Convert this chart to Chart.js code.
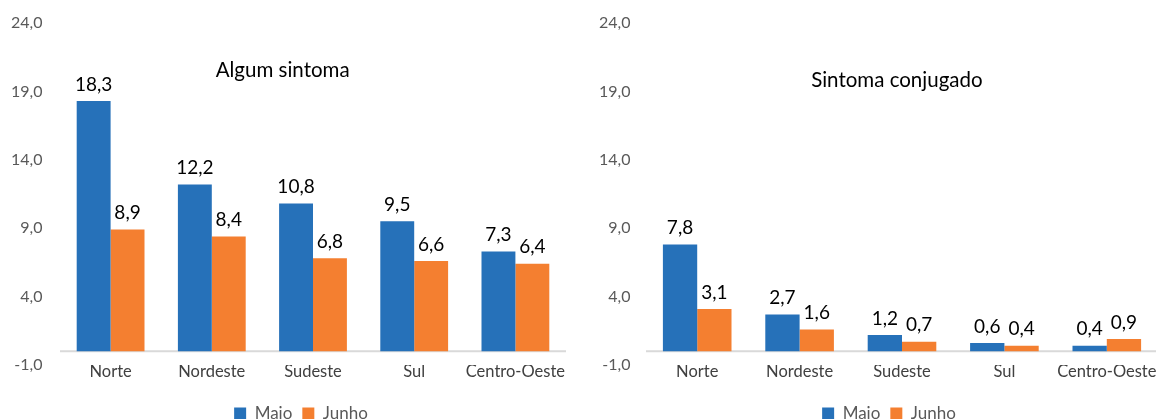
<!DOCTYPE html>
<html lang="pt">
<head>
<meta charset="UTF-8">
<title>Sintomas por região</title>
<script src="https://cdn.jsdelivr.net/npm/chart.js"></script>
<style>
body, html {
    margin: 0;
    padding: 0;
    width: 1156px;
    height: 419px;
    overflow: hidden;
    background: #ffffff;
}
.box {
    position: absolute;
    top: 0;
    height: 432px;
}
#leftBox { left: 8px; width: 578px; }
#rightBox { left: 592px; width: 588px; }
</style>
</head>
<body>
<div class="box" id="leftBox"><canvas id="leftChart"></canvas></div>
<div class="box" id="rightBox"><canvas id="rightChart"></canvas></div>

<script>
// data
const categories = ['Norte', 'Nordeste', 'Sudeste', 'Sul', 'Centro-Oeste'];
const seriesNames = ['Maio', 'Junho'];
const algumMaio = [18.3, 12.2, 10.8, 9.5, 7.3];
const algumJunho = [8.9, 8.4, 6.8, 6.6, 6.4];
const conjMaio = [7.8, 2.7, 1.2, 0.6, 0.4];
const conjJunho = [3.1, 1.6, 0.7, 0.4, 0.9];
const yTicks = [-1, 4, 9, 14, 19, 24];

const BLUE = '#2671b9';
const ORANGE = '#f47f30';
const FONT = 'Lato, "Open Sans", sans-serif';

function fmt(v) {
    return v.toFixed(1).replace('.', ',');
}

// value labels above bars + zero line + inner title
const decorPlugin = {
    id: 'decor',
    beforeDatasetsDraw(chart) {
        const y = chart.scales.y.getPixelForValue(0);
        const ctx = chart.ctx;
        ctx.save();
        ctx.strokeStyle = '#d9d9d9';
        ctx.lineWidth = 2;
        ctx.beginPath();
        ctx.moveTo(chart.chartArea.left, y);
        ctx.lineTo(chart.chartArea.right, y);
        ctx.stroke();
        ctx.restore();
    },
    afterDatasetsDraw(chart, args, opts) {
        const ctx = chart.ctx;
        ctx.save();
        ctx.fillStyle = '#000';
        ctx.font = '19px ' + FONT;
        ctx.textAlign = 'center';
        ctx.textBaseline = 'bottom';
        chart.data.datasets.forEach((ds, i) => {
            chart.getDatasetMeta(i).data.forEach((bar, j) => {
                ctx.fillText(fmt(ds.data[j]), bar.x, bar.y - 7);
            });
        });
        const area = chart.chartArea;
        ctx.font = '20.5px ' + FONT;
        ctx.textBaseline = 'middle';
        ctx.fillText(opts.text, area.left + area.width * opts.fx, opts.y);
        ctx.restore();
    }
};

function makeChart(id, maio, junho, title, padLeft, axisWidth, tickPad, padRight) {
    new Chart(document.getElementById(id), {
        type: 'bar',
        data: {
            labels: categories,
            datasets: [
                { label: seriesNames[0], data: maio, backgroundColor: BLUE },
                { label: seriesNames[1], data: junho, backgroundColor: ORANGE }
            ]
        },
        options: {
            responsive: true,
            maintainAspectRatio: false,
            animation: false,
            datasets: { bar: { categoryPercentage: 0.67, barPercentage: 1.0 } },
            layout: { padding: { top: 23, right: padRight, left: padLeft, bottom: 0 } },
            plugins: {
                legend: {
                    position: 'bottom',
                    labels: {
                        boxWidth: 12,
                        boxHeight: 12,
                        padding: 10,
                        color: '#595959',
                        font: { family: FONT, size: 17 }
                    }
                },
                tooltip: { enabled: false },
                decor: title
            },
            scales: {
                x: {
                    grid: { display: false },
                    border: { display: false },
                    ticks: {
                        color: '#404040',
                        padding: -11,
                        maxRotation: 0,
                        minRotation: 0,
                        autoSkip: false,
                        font: { family: FONT, size: 16.5 }
                    },
                    afterFit(scale) { scale.height = 30; }
                },
                y: {
                    min: -1,
                    max: 24,
                    grid: { display: false },
                    border: { display: false },
                    ticks: {
                        // mirror turns off label clipping; negative padding pulls them back left
                        mirror: true,
                        crossAlign: 'far',
                        color: '#595959',
                        padding: tickPad,
                        font: { family: FONT, size: 16 },
                        callback: v => fmt(v)
                    },
                    afterBuildTicks(scale) {
                        scale.ticks = yTicks.map(v => ({ value: v }));
                    },
                    afterFit(scale) { scale.width = axisWidth; }
                }
            }
        },
        plugins: [decorPlugin]
    });
}

makeChart('leftChart', algumMaio, algumJunho,
    { text: 'Algum sintoma', fx: 0.44, y: 70 }, 28, 24, -49, 20);
makeChart('rightChart', conjMaio, conjJunho,
    { text: 'Sintoma conjugado', fx: 0.49, y: 80 }, 28, 26, -47, 22);
</script>
</body>
</html>
